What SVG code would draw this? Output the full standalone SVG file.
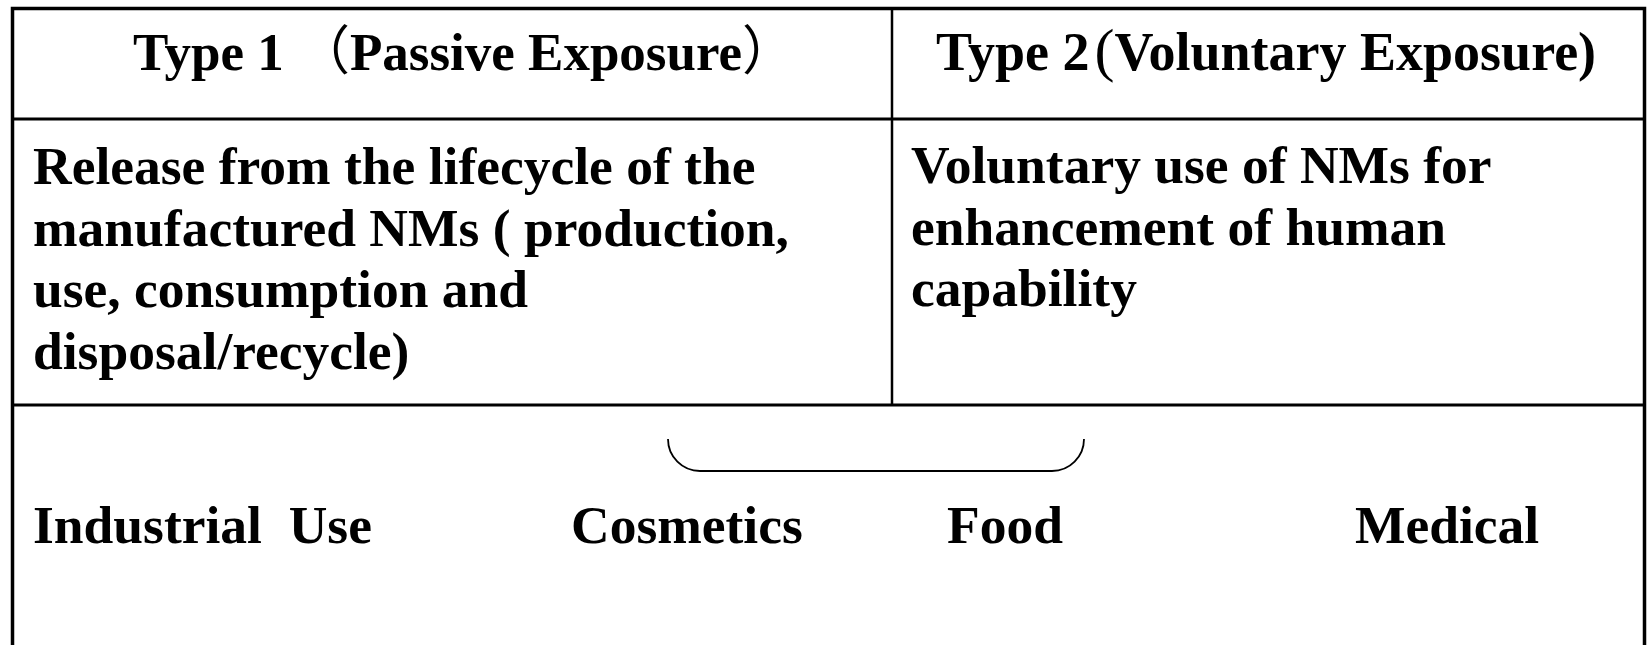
<svg xmlns="http://www.w3.org/2000/svg" width="1650" height="645" viewBox="0 0 1650 645">
<style>
.t{font-family:"Liberation Serif","Times New Roman",serif;font-weight:bold;font-size:53.5px;fill:#000}
.h1{font-size:53px}
.h2{font-size:54px}
.cjk{font-family:"Noto Sans CJK SC",serif;font-weight:400}
.thin{font-weight:400;font-size:60px}
.ln{stroke:#000;fill:none}
</style>
<rect width="1650" height="645" fill="#fff"/>
<g id="table">
<rect class="ln" x="12.5" y="8.5" width="1632" height="640" stroke-width="3.5"/>
<line class="ln" x1="12" y1="119" x2="1645" y2="119" stroke-width="3"/>
<line class="ln" x1="12" y1="405" x2="1645" y2="405" stroke-width="3"/>
<line class="ln" x1="892" y1="8" x2="892" y2="405" stroke-width="2.5"/>
</g>
<g id="header1"><text class="t h1" x="133" y="70">Type 1 <tspan class="cjk">（</tspan>Passive Exposure<tspan class="cjk">）</tspan></text></g>
<g id="header2"><text class="t h2" x="936" y="70">Type 2<tspan class="thin" dx="5">(</tspan>Voluntary Exposure)</text></g>
<g id="type1-desc"><text class="t">
<tspan x="33" y="184">Release from the lifecycle of the</tspan>
<tspan x="33" y="246">manufactured NMs ( production,</tspan>
<tspan x="33" y="307">use, consumption and</tspan>
<tspan x="33" y="369">disposal/recycle)</tspan>
</text></g>
<g id="type2-desc"><text class="t">
<tspan x="911" y="183">Voluntary use of NMs for</tspan>
<tspan x="911" y="245">enhancement of human</tspan>
<tspan x="911" y="306">capability</tspan>
</text></g>
<g id="connectors"><path class="ln" d="M668,439 A32,32 0 0 0 700,471 H1052 A32,32 0 0 0 1084,439" stroke-width="1.8"/></g>
<g id="industrial"><text class="t" x="33" y="543" xml:space="preserve">Industrial  Use</text></g>
<g id="cosmetics"><text class="t" x="571" y="543">Cosmetics</text></g>
<g id="food"><text class="t" x="947" y="543">Food</text></g>
<g id="medical"><text class="t" x="1355" y="543">Medical</text></g>
</svg>
